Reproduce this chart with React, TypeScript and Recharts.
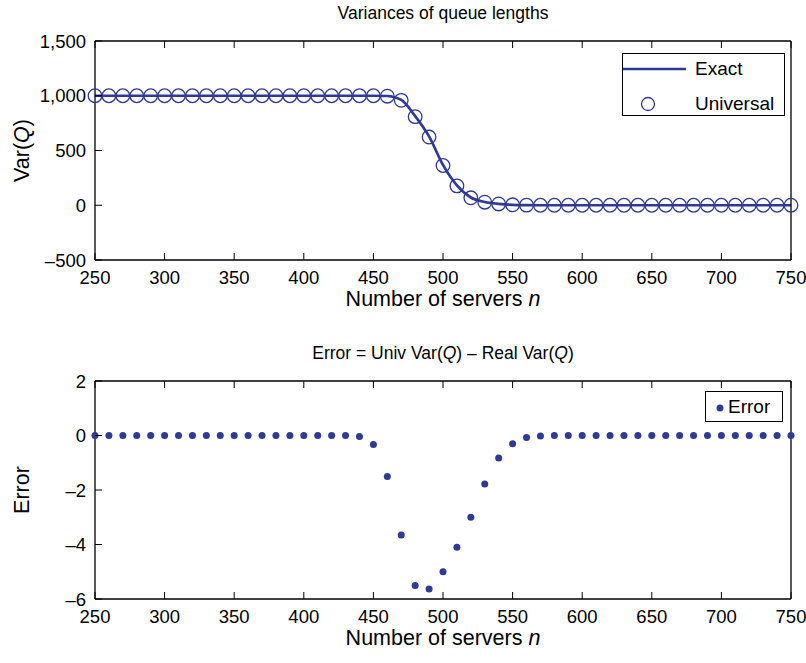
import React from 'react';
import { ComposedChart, Line, Scatter, XAxis, YAxis, Legend, Label } from 'recharts';

const servers = [
  250, 260, 270, 280, 290, 300, 310, 320, 330, 340,
  350, 360, 370, 380, 390, 400, 410, 420, 430, 440,
  450, 460, 470, 480, 490, 500, 510, 520, 530, 540,
  550, 560, 570, 580, 590, 600, 610, 620, 630, 640,
  650, 660, 670, 680, 690, 700, 710, 720, 730, 740, 750,
];

const varUniversal = [
  1000, 1000, 1000, 1000, 1000, 1000, 1000, 1000, 1000, 1000,
  1000, 1000, 1000, 1000, 1000, 1000, 1000, 1000, 1000, 1000,
  1000, 996, 958, 809, 623, 363, 177, 68, 28, 12,
  4, 1, 0, 0, 0, 0, 0, 0, 0, 0,
  0, 0, 0, 0, 0, 0, 0, 0, 0, 0, 0,
];

const varExact = [
  1000, 1000, 1000, 1000, 1000, 1000, 1000, 1000, 1000, 1000,
  1000, 1000, 1000, 1000, 1000, 1000, 1000, 1000, 1000, 1000,
  1000, 997.5, 961.7, 814.5, 628.6, 368, 181.1, 71, 29.8, 12.8,
  4.3, 1.1, 0, 0, 0, 0, 0, 0, 0, 0,
  0, 0, 0, 0, 0, 0, 0, 0, 0, 0, 0,
];

const errorValues = [
  0, 0, 0, 0, 0, 0, 0, 0, 0, 0,
  0, 0, 0, 0, 0, 0, 0, 0, 0, -0.04,
  -0.33, -1.5, -3.65, -5.5, -5.63, -5.0, -4.1, -3.0, -1.78, -0.83,
  -0.3, -0.07, -0.02, 0, 0, 0, 0, 0, 0, 0,
  0, 0, 0, 0, 0, 0, 0, 0, 0, 0, 0,
];

const xTicks = [250, 300, 350, 400, 450, 500, 550, 600, 650, 700, 750];
const varTicks = [-500, 0, 500, 1000, 1500];
const errTicks = [-6, -4, -2, 0, 2];

const topTitle = 'Variances of queue lengths';
const xTitle = 'Number of servers ';
const legendExact = 'Exact';
const legendUniversal = 'Universal';
const legendError = 'Error';

const BLUE = '#2f3a96';
const FONT = '"Liberation Sans", Arial, Helvetica, sans-serif';
const TICK_FS = 18.5;
const LABEL_FS = 21.5;
const TITLE_FS = 17.5;
const LEGEND_FS = 19;
const TICK_LEN = 7;

const fmtVar = (v: number) => {
  if (v < 0) return '\u2013' + Math.abs(v).toLocaleString('en-US');
  return v.toLocaleString('en-US');
};
const fmtErr = (v: number) => (v < 0 ? '\u2013' + Math.abs(v) : String(v));

const BottomTick = (props: any) => {
  const { x, y, payload } = props;
  return (
    <g>
      <line x1={x} y1={y} x2={x} y2={y - TICK_LEN} stroke="#000" strokeWidth={1} />
      <text x={x} y={y + 24} textAnchor="middle" fontSize={TICK_FS} fontFamily={FONT} fill="#000">
        {payload.value}
      </text>
    </g>
  );
};

const TopTick = (props: any) => {
  const { x, y } = props;
  return <line x1={x} y1={y} x2={x} y2={y + TICK_LEN} stroke="#000" strokeWidth={1} />;
};

const makeLeftTick = (fmt: (v: number) => string) => (props: any) => {
  const { x, y, payload } = props;
  return (
    <g>
      <line x1={x} y1={y} x2={x + TICK_LEN} y2={y} stroke="#000" strokeWidth={1} />
      <text x={x - 9} y={y + 6.5} textAnchor="end" fontSize={TICK_FS} fontFamily={FONT} fill="#000">
        {fmt(payload.value)}
      </text>
    </g>
  );
};

const RightTick = (props: any) => {
  const { x, y } = props;
  return <line x1={x} y1={y} x2={x - TICK_LEN} y2={y} stroke="#000" strokeWidth={1} />;
};

const XTitleLabel = (props: any) => {
  const vb = props.viewBox;
  return (
    <text x={vb.x + vb.width / 2} y={vb.y + 46} textAnchor="middle" fontSize={LABEL_FS} fontFamily={FONT} fill="#000">
      {xTitle}
      <tspan fontStyle="italic">n</tspan>
    </text>
  );
};

const TopTitleLabel = (props: any) => {
  const vb = props.viewBox;
  return (
    <text x={vb.x + vb.width / 2} y={vb.y - 21} textAnchor="middle" fontSize={TITLE_FS} fontFamily={FONT} fill="#000">
      {topTitle}
    </text>
  );
};

const ErrTitleLabel = (props: any) => {
  const vb = props.viewBox;
  return (
    <text x={vb.x + vb.width / 2} y={vb.y - 21} textAnchor="middle" fontSize={TITLE_FS} fontFamily={FONT} fill="#000">
      {'Error = Univ Var('}
      <tspan fontStyle="italic">Q</tspan>
      {') \u2013 Real Var('}
      <tspan fontStyle="italic">Q</tspan>
      {')'}
    </text>
  );
};

const VarYLabel = (props: any) => {
  const vb = props.viewBox;
  const cx = 22;
  const cy = vb.y + vb.height / 2;
  return (
    <text x={cx} y={cy} transform={`rotate(-90 ${cx} ${cy})`} textAnchor="middle" dominantBaseline="central" fontSize={LABEL_FS} fontFamily={FONT} fill="#000">
      {'Var('}
      <tspan fontStyle="italic">Q</tspan>
      {')'}
    </text>
  );
};

const ErrYLabel = (props: any) => {
  const vb = props.viewBox;
  const cx = 22;
  const cy = vb.y + vb.height / 2;
  return (
    <text x={cx} y={cy} transform={`rotate(-90 ${cx} ${cy})`} textAnchor="middle" dominantBaseline="central" fontSize={LABEL_FS} fontFamily={FONT} fill="#000">
      Error
    </text>
  );
};

const TopLegend = () => (
  <div
    style={{
      width: 163,
      height: 63,
      boxSizing: 'border-box',
      border: '1.3px solid #000',
      background: '#fff',
      fontFamily: FONT,
      fontSize: LEGEND_FS,
      position: 'relative',
    }}
  >
    <svg width={70} height={63} style={{ position: 'absolute', left: 0, top: 0 }}>
      <line x1={0} y1={15} x2={63} y2={15} stroke={BLUE} strokeWidth={2.5} />
      <circle cx={25} cy={50} r={6.5} fill="none" stroke={BLUE} strokeWidth={1.3} />
    </svg>
    <div style={{ position: 'absolute', left: 72, top: 4, lineHeight: '22px' }}>{legendExact}</div>
    <div style={{ position: 'absolute', left: 72, top: 39, lineHeight: '22px' }}>{legendUniversal}</div>
  </div>
);

const BottomLegend = () => (
  <div
    style={{
      width: 78,
      height: 31,
      boxSizing: 'border-box',
      border: '1.3px solid #000',
      background: '#fff',
      fontFamily: FONT,
      fontSize: LEGEND_FS,
      position: 'relative',
    }}
  >
    <svg width={22} height={31} style={{ position: 'absolute', left: 0, top: 0 }}>
      <circle cx={14} cy={16} r={3.5} fill={BLUE} />
    </svg>
    <div style={{ position: 'absolute', left: 22, top: 4, lineHeight: '22px' }}>{legendError}</div>
  </div>
);

const OpenCircle = (props: any) => (
  <circle cx={props.cx} cy={props.cy} r={6.8} fill="none" stroke={BLUE} strokeWidth={1.3} />
);
const Dot = (props: any) => <circle cx={props.cx} cy={props.cy} r={3.5} fill={BLUE} />;

const topData = servers.map((n, i) => ({ n, exact: varExact[i], universal: varUniversal[i] }));
const errData = servers.map((n, i) => ({ n, err: errorValues[i] }));

const axisLine = { stroke: '#000', strokeWidth: 1.3 };

export default function App() {
  return (
    <div style={{ position: 'absolute', left: 0, top: 0, width: 806, height: 663, background: '#fff' }}>
      <div style={{ position: 'absolute', left: 0, top: 0 }}>
        <ComposedChart width={806} height={312} data={topData} margin={{ top: 40, right: 14, bottom: 51, left: 94 }}>
          <XAxis xAxisId="b" dataKey="n" type="number" domain={[250, 750]} ticks={xTicks} interval={0}
            height={1} tickSize={0} tickMargin={0} tickLine={false} axisLine={axisLine} tick={<BottomTick />}>
            <Label content={<XTitleLabel />} />
          </XAxis>
          <XAxis xAxisId="t" orientation="top" dataKey="n" type="number" domain={[250, 750]} ticks={xTicks} interval={0}
            height={1} tickSize={0} tickMargin={0} tickLine={false} axisLine={axisLine} tick={<TopTick />}>
            <Label content={<TopTitleLabel />} />
          </XAxis>
          <YAxis yAxisId="l" type="number" domain={[-500, 1500]} ticks={varTicks} interval={0}
            width={1} tickSize={0} tickMargin={0} tickLine={false} axisLine={axisLine} tick={makeLeftTick(fmtVar)}>
            <Label content={<VarYLabel />} />
          </YAxis>
          <YAxis yAxisId="r" orientation="right" type="number" domain={[-500, 1500]} ticks={varTicks} interval={0}
            width={1} tickSize={0} tickMargin={0} tickLine={false} axisLine={axisLine} tick={<RightTick />} />
          <Line xAxisId="b" yAxisId="l" type="monotone" dataKey="exact" name={legendExact} stroke={BLUE}
            strokeWidth={2.7} dot={false} isAnimationActive={false} />
          <Scatter xAxisId="b" yAxisId="l" dataKey="universal" name={legendUniversal} shape={<OpenCircle />}
            isAnimationActive={false} />
          <Legend layout="vertical" align="center" verticalAlign="middle" content={<TopLegend />}
            wrapperStyle={{ left: 622, top: 53, width: 163, height: 63 }} />
        </ComposedChart>
      </div>
      <div style={{ position: 'absolute', left: 0, top: 312 }}>
        <ComposedChart width={806} height={351} data={errData} margin={{ top: 68, right: 14, bottom: 63, left: 94 }}>
          <XAxis xAxisId="b" dataKey="n" type="number" domain={[250, 750]} ticks={xTicks} interval={0}
            height={1} tickSize={0} tickMargin={0} tickLine={false} axisLine={axisLine} tick={<BottomTick />}>
            <Label content={<XTitleLabel />} />
          </XAxis>
          <XAxis xAxisId="t" orientation="top" dataKey="n" type="number" domain={[250, 750]} ticks={xTicks} interval={0}
            height={1} tickSize={0} tickMargin={0} tickLine={false} axisLine={axisLine} tick={<TopTick />}>
            <Label content={<ErrTitleLabel />} />
          </XAxis>
          <YAxis yAxisId="l" type="number" domain={[-6, 2]} ticks={errTicks} interval={0}
            width={1} tickSize={0} tickMargin={0} tickLine={false} axisLine={axisLine} tick={makeLeftTick(fmtErr)}>
            <Label content={<ErrYLabel />} />
          </YAxis>
          <YAxis yAxisId="r" orientation="right" type="number" domain={[-6, 2]} ticks={errTicks} interval={0}
            width={1} tickSize={0} tickMargin={0} tickLine={false} axisLine={axisLine} tick={<RightTick />} />
          <Scatter xAxisId="b" yAxisId="l" dataKey="err" name={legendError} shape={<Dot />} isAnimationActive={false} />
          <Legend layout="vertical" align="center" verticalAlign="middle" content={<BottomLegend />}
            wrapperStyle={{ left: 705, top: 79, width: 78, height: 31 }} />
        </ComposedChart>
      </div>
    </div>
  );
}
